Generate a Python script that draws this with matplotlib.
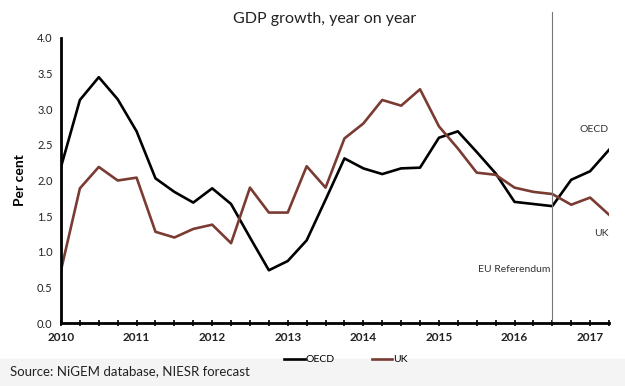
import numpy as np
import matplotlib
matplotlib.use('Agg')
import matplotlib.pyplot as plt
from matplotlib.patches import Rectangle

plt.rcParams['font.family'] = ['Lato', 'DejaVu Sans']

# quarterly, 2010Q1 .. 2017Q2
quarters = 2010 + np.arange(30) * 0.25
oecd = [2.19, 3.13, 3.45, 3.14,
        2.69, 2.03, 1.84, 1.69,
        1.89, 1.67, 1.20, 0.74,
        0.87, 1.16, 1.73, 2.31,
        2.17, 2.09, 2.17, 2.18,
        2.60, 2.69, 2.40, 2.10,
        1.70, 1.67, 1.64, 2.01,
        2.13, 2.43]
uk = [0.74, 1.89, 2.19, 2.00,
      2.04, 1.28, 1.20, 1.32,
      1.38, 1.12, 1.90, 1.55,
      1.55, 2.20, 1.90, 2.59,
      2.80, 3.13, 3.05, 3.28,
      2.76, 2.45, 2.11, 2.08,
      1.90, 1.84, 1.81, 1.66,
      1.76, 1.52]
years = [2010, 2011, 2012, 2013, 2014, 2015, 2016, 2017]
yticks = [0.0, 0.5, 1.0, 1.5, 2.0, 2.5, 3.0, 3.5, 4.0]
referendum = 2016.5

uk_col = '#7a3b33'

fig = plt.figure(figsize=(6.25, 3.86), dpi=100)
fig.patches.append(Rectangle((0, 0), 1, 0.07, transform=fig.transFigure,
                             color='#f4f4f4', zorder=-1))
ax = fig.add_axes([0.0976, 0.1632, 0.8768, 0.7384])

ax.plot(quarters, oecd, color='black', lw=1.9, label='OECD')
ax.plot(quarters, uk, color=uk_col, lw=1.9, label='UK')
ax.axvline(referendum, ymin=0, ymax=1.09, color='#777777', lw=0.8, clip_on=False)

ax.set_xlim(2010, 2017.25)
ax.set_ylim(0, 4)
ax.set_xticks(years)
ax.set_xticklabels([str(y) for y in years], fontsize=8.5, fontweight='bold', color='#222222')
ax.set_xticks(quarters, minor=True)
ax.set_yticks(yticks)
ax.set_yticklabels(['%.1f' % v for v in yticks], fontsize=8, color='#222222')
ax.tick_params(axis='x', which='both', direction='inout', length=5, width=1.2, pad=4)
ax.tick_params(axis='y', length=0, pad=6)

for s in ['top', 'right']:
    ax.spines[s].set_visible(False)
for s in ['left', 'bottom']:
    ax.spines[s].set_linewidth(2)

ax.set_ylabel('Per cent', fontsize=10, fontweight='bold', labelpad=8)
fig.text(0.52, 0.94, 'GDP growth, year on year', ha='center', fontsize=11.5, color='#222222')

ax.text(2017.05, 2.68, 'OECD', fontsize=7.5, ha='center', color='#333333')
ax.text(2017.15, 1.22, 'UK', fontsize=7.5, ha='center', color='#333333')
ax.text(2016.47, 0.72, 'EU Referendum', fontsize=7.5, ha='right', color='#333333')

ax.legend(loc='upper center', bbox_to_anchor=(0.52, -0.08), ncol=2, frameon=False,
          fontsize=7.5, handlelength=2.0, handletextpad=0.1, columnspacing=3.5)

fig.text(0.016, 0.028, 'Source: NiGEM database, NIESR forecast', fontsize=9.5, color='#222222')

fig.savefig('out.png', dpi=100)
